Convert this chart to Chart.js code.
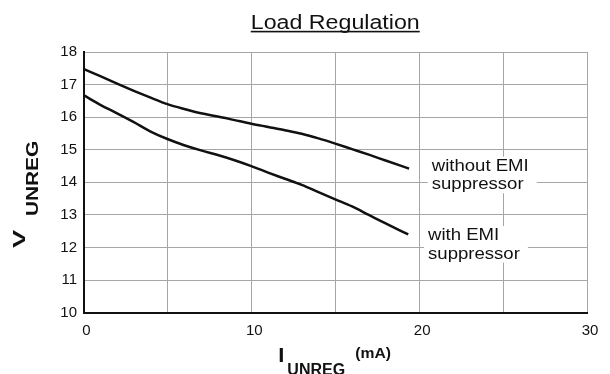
<!DOCTYPE html>
<html>
<head>
<meta charset="utf-8">
<title>Load Regulation</title>
<script src="https://cdn.jsdelivr.net/npm/chart.js@4.4.1/dist/chart.umd.min.js"></script>
<style>
  html, body { margin: 0; padding: 0; background: #fff; }
  #wrap { position: relative; width: 610px; height: 374px; }
</style>
</head>
<body>
<div id="wrap"><canvas id="loadChart"></canvas></div>
<script>
// Load regulation – unregulated supply voltage vs. load current

// series: without EMI suppressor
const currentWithout = [0, 1, 2, 3, 4, 5, 6, 7, 8, 9, 10, 11, 12, 13, 14, 15, 16, 17, 18, 19.4];
const voltsWithout = [17.48, 17.26, 17.03, 16.81, 16.6, 16.4, 16.25, 16.12, 16.02, 15.91, 15.8, 15.7, 15.6, 15.49, 15.35, 15.19, 15.02, 14.85, 14.67, 14.42];

// series: with EMI suppressor
const currentWith = [0, 1, 2, 3, 4, 5, 6, 7, 8, 9, 10, 11, 12, 13, 14, 15, 16, 17, 18, 19.35];
const voltsWith = [16.68, 16.38, 16.12, 15.85, 15.56, 15.33, 15.14, 14.98, 14.84, 14.68, 14.5, 14.3, 14.11, 13.92, 13.7, 13.48, 13.26, 13.0, 12.74, 12.4];

// axes
const xTickValues = [0, 5, 10, 15, 20, 25, 30];
const xTickLabels = ["0", "", "10", "", "20", "", "30"];
const yTickValues = [10, 11, 12, 13, 14, 15, 16, 17, 18];

// curve labels
const noteWithout = ["without EMI", "suppressor"];
const noteWith = ["with EMI", "suppressor"];

const el = id => document.getElementById(id);
const FONT = '"Liberation Sans", Arial, Helvetica, sans-serif';
const INK = "#111";
const GRID = "#a6a6a6";
const WIDE = 1.16;   // text here is set a little wider than plain Arial

function toPoints(xs, ys) {
    return xs.map((x, i) => ({ x: x, y: ys[i] }));
}

// draw text with a horizontal stretch, returns drawn width
function wideText(ctx, text, x, y, font, sx) {
    ctx.save();
    ctx.font = font;
    ctx.translate(x, y);
    ctx.scale(sx, 1);
    ctx.fillText(text, 0, 0);
    const w = ctx.measureText(text).width * sx;
    ctx.restore();
    return w;
}

// text running bottom-to-top, stretched along its own direction
function upText(ctx, text, x, y, font, sx) {
    ctx.save();
    ctx.font = font;
    ctx.translate(x, y);
    ctx.rotate(-Math.PI / 2);
    ctx.scale(sx, 1);
    ctx.fillText(text, 0, 0);
    ctx.restore();
}

// boxed two-line label that blanks the grid behind it
function drawNote(ctx, lines, left, baseline) {
    const font = `16px ${FONT}`;
    const lh = 18.6;
    ctx.font = font;
    const w = Math.max(...lines.map(t => ctx.measureText(t).width)) * WIDE;
    ctx.fillStyle = "#fff";
    ctx.fillRect(left - 4, baseline - 14, w + 12, lh * (lines.length - 1) + 18);
    ctx.fillStyle = INK;
    lines.forEach((t, i) => wideText(ctx, t, left, baseline + i * lh, font, WIDE));
}

const overlay = {
    id: "overlay",
    beforeDatasetsDraw(chart) {
        const { ctx, scales: { x, y } } = chart;
        ctx.save();
        ctx.textBaseline = "alphabetic";
        drawNote(ctx, noteWithout, x.getPixelForValue(20.75), y.getPixelForValue(14.36));
        drawNote(ctx, noteWith, x.getPixelForValue(20.53), y.getPixelForValue(12.23));
        ctx.restore();
    },
    afterDraw(chart) {
        const { ctx, chartArea: ca } = chart;
        const cx = (ca.left + ca.right) / 2;
        ctx.save();
        ctx.fillStyle = INK;
        ctx.textBaseline = "alphabetic";

        // underlined title
        const tFont = `20px ${FONT}`;
        ctx.font = tFont;
        const tw = ctx.measureText("Load Regulation").width * WIDE;
        const tx = cx - tw / 2;
        wideText(ctx, "Load Regulation", tx, 29.3, tFont, WIDE);
        ctx.fillRect(tx, 30.8, tw, 1.6);

        // x axis title: I_UNREG (mA)
        let px = cx - 57;
        px += wideText(ctx, "I", px, 362, `bold 20px ${FONT}`, 1.1) + 3;
        wideText(ctx, "UNREG", px, 374.5, `bold 16px ${FONT}`, 1.0);
        wideText(ctx, "(mA)", cx + 20, 358, `bold 14px ${FONT}`, 1.12);

        // y axis title: V_UNREG
        upText(ctx, "V", 25, 248, `bold 17px ${FONT}`, 1.6);
        upText(ctx, "UNREG", 38, 216, `bold 16px ${FONT}`, 1.3);
        ctx.restore();
    }
};

const lineStyle = {
    borderColor: INK,
    borderWidth: 2.5,
    pointRadius: 0,
    fill: false,
    cubicInterpolationMode: "monotone"
};

new Chart(el("loadChart"), {
    type: "line",
    data: {
        datasets: [
            { label: "without EMI suppressor", data: toPoints(currentWithout, voltsWithout), ...lineStyle },
            { label: "with EMI suppressor", data: toPoints(currentWith, voltsWith), ...lineStyle }
        ]
    },
    options: {
        responsive: true,
        maintainAspectRatio: false,
        animation: false,
        events: [],
        layout: { padding: { top: 52, right: 23, left: 0, bottom: 0 } },
        plugins: {
            legend: { display: false },
            tooltip: { enabled: false },
            title: { display: false }
        },
        scales: {
            x: {
                type: "linear",
                min: 0,
                max: 30,
                afterBuildTicks: s => { s.ticks = xTickValues.map(v => ({ value: v })); },
                afterFit: s => { s.height = 61.3; },
                grid: { color: GRID, lineWidth: 1, drawTicks: false },
                border: { color: INK, width: 2 },
                ticks: {
                    padding: 9,
                    color: INK,
                    autoSkip: false,
                    maxRotation: 0,
                    labelOffset: 3,
                    font: { family: FONT, size: 15 },
                    callback: (v, i) => xTickLabels[i]
                }
            },
            y: {
                type: "linear",
                min: 10,
                max: 18,
                afterBuildTicks: s => { s.ticks = yTickValues.map(v => ({ value: v })); },
                afterFit: s => { s.width = 83.5; },
                grid: { color: GRID, lineWidth: 1, drawTicks: false },
                border: { color: INK, width: 2 },
                ticks: {
                    padding: 6.5,
                    color: INK,
                    font: { family: FONT, size: 15 },
                    callback: v => String(v)
                }
            }
        }
    },
    plugins: [overlay]
});
</script>
</body>
</html>
